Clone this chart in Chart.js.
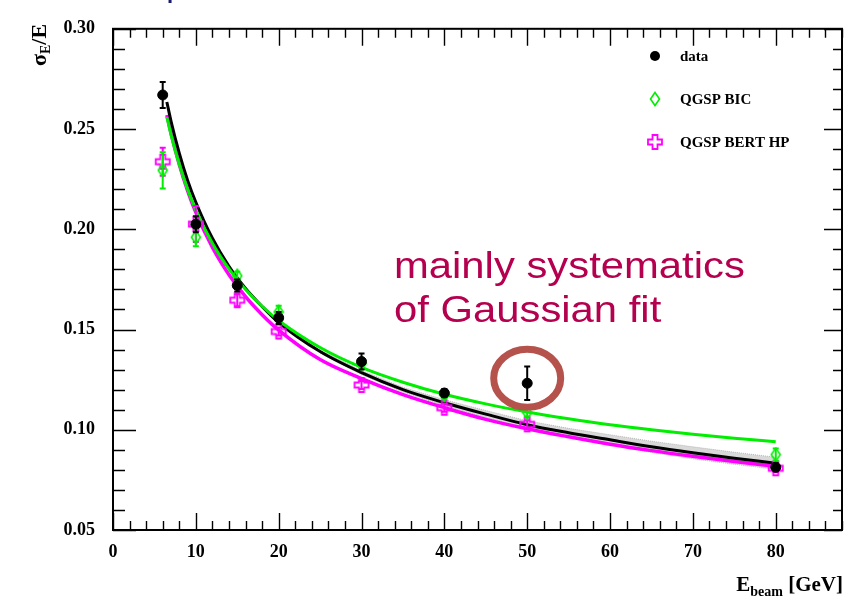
<!DOCTYPE html>
<html><head><meta charset="utf-8">
<script src="https://cdn.jsdelivr.net/npm/chart.js@4/dist/chart.umd.min.js"></script>
<style>html,body{margin:0;padding:0;background:#fff;overflow:hidden}</style>
</head><body>
<canvas id="c" width="859" height="601" style="display:block"></canvas>
<script>
// ---- data ----
const energies = [6, 10, 15, 20, 30, 40, 50, 80];
const dataVals = [0.267, 0.2025, 0.172, 0.1558, 0.134, 0.1183, 0.1232, 0.0813];
const dataErrs = [0.0065, 0.004, 0.003, 0.003, 0.004, 0.002, 0.0083, 0.002];
const bicVals  = [0.2294, 0.196, 0.1768, 0.1588, 0.133, 0.1174, 0.1086, 0.0876];
const bicErrs  = [0.009, 0.0045, 0.002, 0.003, 0.002, 0.002, 0.002, 0.003];
const bertVals = [0.2337, 0.2026, 0.1646, 0.149, 0.1223, 0.111, 0.1027, 0.0808];
const bertErrs = [0.007, 0.009, 0.003, 0.002, 0.002, 0.002, 0.002, 0.002];

const fitE    = [6.5, 7, 8, 9, 10, 12, 14, 16, 18, 20, 25, 30, 35, 40, 45, 50, 55, 60, 65, 70, 75, 80];
const fitData = [0.2635, 0.254, 0.238, 0.2245, 0.2135, 0.1955, 0.1815, 0.1705, 0.1615, 0.1535, 0.139, 0.1285, 0.120, 0.1135, 0.1078, 0.1025, 0.0985, 0.0950, 0.0915, 0.0885, 0.0858, 0.0833];
const fitBIC  = [0.256, 0.2472, 0.2323, 0.220, 0.2096, 0.193, 0.1802, 0.170, 0.1616, 0.1545, 0.141, 0.1311, 0.1237, 0.1177, 0.1129, 0.1089, 0.1055, 0.1025, 0.100, 0.0978, 0.0958, 0.0940];
const fitBERT = [0.257, 0.2479, 0.2323, 0.2193, 0.2084, 0.1909, 0.1773, 0.1664, 0.1574, 0.1497, 0.135, 0.1255, 0.1175, 0.111, 0.1052, 0.1005, 0.0965, 0.0928, 0.0896, 0.0868, 0.0842, 0.0818];

const bandE     = [25, 30, 35, 40, 45, 50, 55, 60, 65, 70, 75, 80];
const bandUpper = [0.1398, 0.1295, 0.1212, 0.115, 0.1096, 0.1045, 0.1007, 0.0975, 0.0943, 0.0915, 0.0888, 0.0863];
const bandLower = [0.1382, 0.1275, 0.1188, 0.112, 0.106, 0.1005, 0.0963, 0.0925, 0.0887, 0.0855, 0.0828, 0.0803];

const xTicks = [0, 10, 20, 30, 40, 50, 60, 70, 80];
const yTicks = [0.05, 0.10, 0.15, 0.20, 0.25, 0.30];

const annotationLines = ['mainly systematics', 'of Gaussian fit'];
const highlightIndex = 6; // the 50 GeV data point

// ---- marker images ----
function makeDiamond(){
  const c=document.createElement('canvas'); c.width=12; c.height=16;
  const g=c.getContext('2d'); g.strokeStyle='#00ee00'; g.lineWidth=1.6;
  g.beginPath(); g.moveTo(6,1.5); g.lineTo(10.5,8); g.lineTo(6,14.5); g.lineTo(1.5,8); g.closePath(); g.stroke();
  return c;
}
function makeOpenCross(){
  const c=document.createElement('canvas'); c.width=18; c.height=18;
  const g=c.getContext('2d'); g.strokeStyle='#ff00ff'; g.lineWidth=1.8;
  const a=2.5,b=7,o=9;
  g.beginPath();
  g.moveTo(o-a,o-b); g.lineTo(o+a,o-b); g.lineTo(o+a,o-a); g.lineTo(o+b,o-a); g.lineTo(o+b,o+a);
  g.lineTo(o+a,o+a); g.lineTo(o+a,o+b); g.lineTo(o-a,o+b); g.lineTo(o-a,o+a); g.lineTo(o-b,o+a);
  g.lineTo(o-b,o-a); g.lineTo(o-a,o-a); g.closePath(); g.stroke();
  return c;
}
const diamondImg = makeDiamond();
const crossImg = makeOpenCross();
const pts = (xs, ys) => xs.map((x,i)=>({x:x, y:ys[i]}));

const SERIF = "'Liberation Serif', 'DejaVu Serif', serif";

// ---- plugins ----
const errPlugin = {
  id:'errbars',
  beforeDatasetDraw(chart, args){
    const ds = chart.data.datasets[args.index];
    if(!ds.errs) return;
    const {ctx, scales:{x,y}} = chart;
    ctx.save(); ctx.strokeStyle = ds.errColor; ctx.lineWidth = 2;
    ds.data.forEach((p,i)=>{
      const e = ds.errs[i];
      const px = x.getPixelForValue(p.x);
      const y1 = y.getPixelForValue(p.y+e), y2 = y.getPixelForValue(p.y-e);
      ctx.beginPath();
      ctx.moveTo(px,y1); ctx.lineTo(px,y2);
      ctx.moveTo(px-3,y1); ctx.lineTo(px+3,y1);
      ctx.moveTo(px-3,y2); ctx.lineTo(px+3,y2);
      ctx.stroke();
    });
    ctx.restore();
  }
};

const framePlugin = {
  id:'frame',
  beforeDatasetsDraw(chart){
    const {ctx, chartArea:a, scales:{x,y}} = chart;
    ctx.save();
    ctx.strokeStyle='#000';
    ctx.lineWidth=2;
    ctx.strokeRect(a.left, a.top, a.right-a.left, a.bottom-a.top);
    ctx.lineWidth=1.4;
    ctx.beginPath();
    for(let v=0; v<=x.max; v+=2){
      const px = Math.round(x.getPixelForValue(v))+0.5;
      const major = v%10===0;
      const L = major?17:9;
      ctx.moveTo(px,a.bottom); ctx.lineTo(px,a.bottom-L);
      ctx.moveTo(px,a.top); ctx.lineTo(px,a.top+L);
    }
    for(let k=5;k<=30;k++){
      const py = Math.round(y.getPixelForValue(k/100))+0.5;
      const major = k%5===0;
      ctx.moveTo(a.left,py); ctx.lineTo(a.left+(major?23:12),py);
      ctx.moveTo(a.right,py); ctx.lineTo(a.right-(major?18:9),py);
    }
    ctx.stroke();
    ctx.restore();
  }
};

const decoPlugin = {
  id:'deco',
  afterDraw(chart){
    const {ctx, scales:{x,y}, chartArea:a} = chart;
    ctx.save();
    // fragment of slide title above (only its descender shows)
    ctx.fillStyle='#1a1a70';
    ctx.font="bold 22px 'Liberation Sans', Arial, sans-serif";
    ctx.textBaseline='alphabetic';
    ctx.fillText('p', 167, -2);

    // legend
    const items = chart.data.datasets.slice(0,3);
    const ly = [56, 99, 142];
    items.forEach((ds,i)=>{
      const mx = 655, my = ly[i];
      if(ds.pointStyle === 'circle'){
        ctx.fillStyle='#000'; ctx.beginPath(); ctx.arc(mx,my,5,0,Math.PI*2); ctx.fill();
      } else {
        const img = ds.pointStyle; ctx.drawImage(img, mx-img.width/2, my-img.height/2);
      }
      ctx.fillStyle='#000'; ctx.font='bold 15px '+SERIF; ctx.textBaseline='middle'; ctx.textAlign='left';
      ctx.fillText(ds.label, 680, my+1);
    });

    // y-axis title sigma_E / E (rotated)
    ctx.save();
    ctx.translate(46, 66); ctx.rotate(-Math.PI/2);
    ctx.fillStyle='#000'; ctx.textBaseline='alphabetic'; ctx.textAlign='left';
    ctx.font="bold 22px "+SERIF;
    let cx = 0;
    ctx.fillText('σ', cx, 0); cx += ctx.measureText('σ').width;
    ctx.font="bold 14px "+SERIF;
    ctx.fillText('E', cx, 4); cx += ctx.measureText('E').width;
    ctx.font="bold 22px "+SERIF;
    ctx.fillText('/E', cx, 0);
    ctx.restore();

    // x-axis title E_beam [GeV]
    ctx.fillStyle='#000'; ctx.textBaseline='alphabetic'; ctx.textAlign='left';
    ctx.font="bold 21px "+SERIF; const w1 = ctx.measureText('E').width, w3 = ctx.measureText(' [GeV]').width;
    ctx.font="bold 14px "+SERIF; const w2 = ctx.measureText('beam').width;
    let sx = 843 - (w1+w2+w3);
    ctx.font="bold 21px "+SERIF; ctx.fillText('E', sx, 591); sx+=w1;
    ctx.font="bold 14px "+SERIF; ctx.fillText('beam', sx, 596); sx+=w2;
    ctx.font="bold 21px "+SERIF; ctx.fillText(' [GeV]', sx, 591);

    // annotation text
    ctx.fillStyle='#b4004e';
    ctx.font="37px 'Liberation Sans', Arial, sans-serif";
    ctx.save(); ctx.translate(394,0); ctx.scale(1.13,1);
    ctx.fillText(annotationLines[0], 0, 278);
    ctx.fillText(annotationLines[1], 0, 322);
    ctx.restore();

    // highlight ellipse around the 50 GeV data point
    const ex = x.getPixelForValue(energies[highlightIndex]);
    const ey = y.getPixelForValue(dataVals[highlightIndex]);
    ctx.strokeStyle='#b5524c'; ctx.lineWidth=7;
    ctx.beginPath(); ctx.ellipse(ex, ey-5, 33.5, 29, 0, 0, Math.PI*2); ctx.stroke();
    ctx.restore();
  }
};

const tickFont = {family:SERIF, weight:'bold', size:18};

new Chart(document.getElementById('c'), {
  type:'line',
  data:{
    datasets:[
      {label:'data', data:pts(energies,dataVals), showLine:false, pointStyle:'circle', pointRadius:5,
       backgroundColor:'#000', borderColor:'#000', order:0, errs:dataErrs, errColor:'#000'},
      {label:'QGSP BIC', data:pts(energies,bicVals), showLine:false, pointStyle:diamondImg, pointRadius:6,
       backgroundColor:'#00ee00', borderColor:'#00ee00', order:1, errs:bicErrs, errColor:'#00ee00'},
      {label:'QGSP BERT HP', data:pts(energies,bertVals), showLine:false, pointStyle:crossImg, pointRadius:7,
       backgroundColor:'#ff00ff', borderColor:'#ff00ff', order:2, errs:bertErrs, errColor:'#ff00ff'},
      {label:'fit BIC', data:pts(fitE,fitBIC), borderColor:'#00ee00', borderWidth:3, pointRadius:0,
       cubicInterpolationMode:'monotone', order:3, fill:false},
      {label:'fit data', data:pts(fitE,fitData), borderColor:'#000', borderWidth:3, pointRadius:0,
       cubicInterpolationMode:'monotone', order:4, fill:false},
      {label:'fit BERT', data:pts(fitE,fitBERT), borderColor:'#ff00ff', borderWidth:3.5, pointRadius:0,
       cubicInterpolationMode:'monotone', order:5, fill:false},
      {label:'band upper', data:pts(bandE,bandUpper), borderColor:'rgba(150,150,150,0.6)', borderWidth:1, borderDash:[1,1],
       backgroundColor:'rgba(170,170,170,0.45)', pointRadius:0, fill:'+1', order:6},
      {label:'band lower', data:pts(bandE,bandLower), borderColor:'rgba(150,150,150,0.6)', borderWidth:1, borderDash:[1,1],
       pointRadius:0, fill:false, order:7}
    ]
  },
  options:{
    responsive:false, animation:false, events:[],
    layout:{padding:{top:17, right:17, left:0, bottom:0}},
    plugins:{legend:{display:false}, tooltip:{enabled:false}},
    scales:{
      x:{type:'linear', min:0, max:88,
         afterBuildTicks:s=>{ s.ticks = xTicks.map(v=>({value:v})); },
         afterFit:s=>{ s.height = 71; },
         grid:{display:false, drawTicks:false}, border:{display:false},
         ticks:{padding:12, font:tickFont, color:'#000', maxRotation:0, autoSkip:false, callback:v=>String(v)}},
      y:{type:'linear', min:0.05, max:0.30,
         afterBuildTicks:s=>{ s.ticks = yTicks.map(v=>({value:v})); },
         afterFit:s=>{ s.width = 113; },
         grid:{display:false, drawTicks:false}, border:{display:false},
         ticks:{padding:18, font:tickFont, color:'#000', autoSkip:false, callback:v=>Number(v).toFixed(2)}}
    }
  },
  plugins:[framePlugin, errPlugin, decoPlugin]
});
</script>
</body></html>
